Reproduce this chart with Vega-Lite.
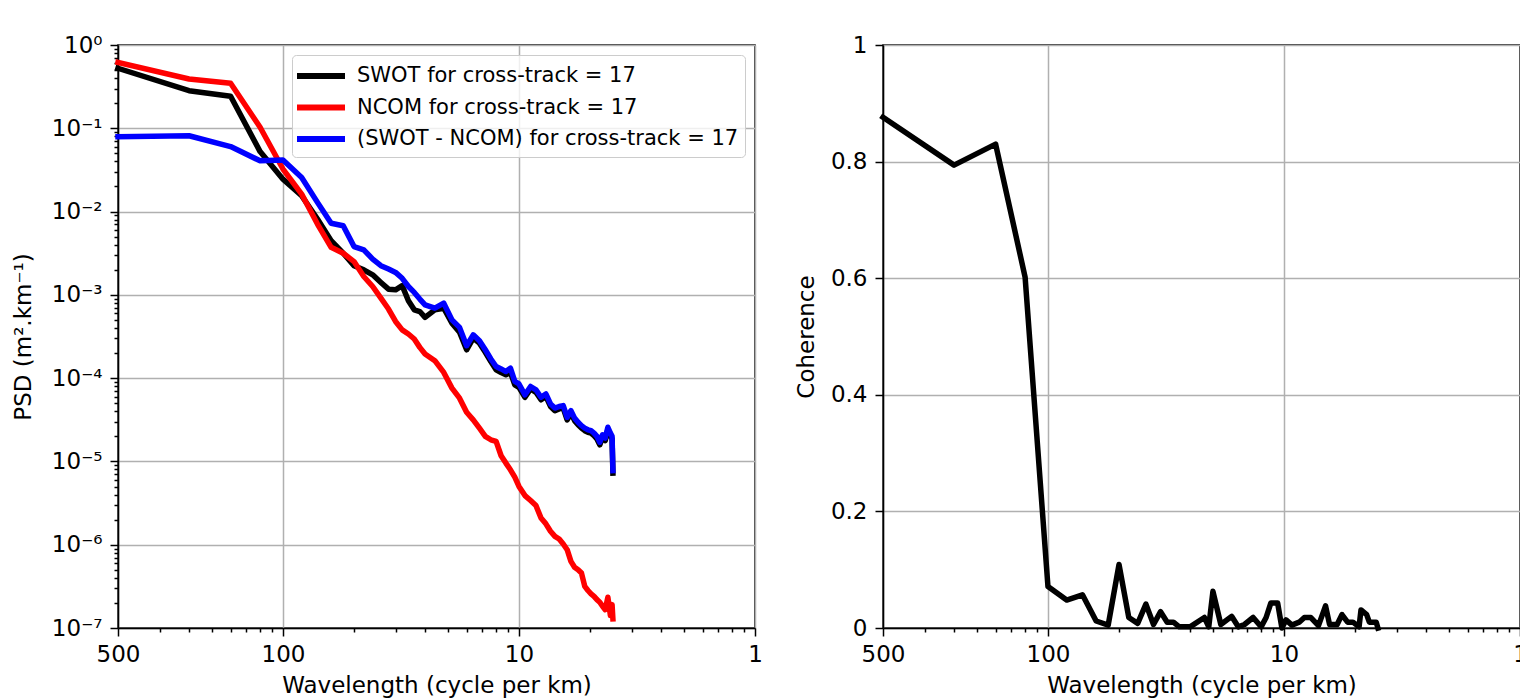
{
"$schema": "https://vega.github.io/schema/vega-lite/v6.json",
"background": "white",
"padding": {"left": 11, "top": 33, "right": 0, "bottom": 0},
"spacing": 128,
"bounds": "flush",
"resolve": {"scale": {"color": "independent"}, "legend": {"color": "independent"}},
"config": {
  "font": "DejaVu Sans",
  "view": {"stroke": "black", "strokeWidth": 1.5},
  "axis": {"labelFont": "DejaVu Sans", "labelFontSize": 23, "titleFont": "DejaVu Sans", "titleFontSize": 23, "titleFontWeight": "normal", "labelColor": "black", "titleColor": "black", "tickColor": "black", "tickWidth": 1.5, "domainColor": "black", "domainWidth": 1.5, "gridColor": "#b0b0b0", "gridWidth": 1.5, "labelPadding": 7, "tickSize": 8, "labelOverlap": false, "labelFlush": false, "titlePadding": 8},
  "legend": {"labelFont": "DejaVu Sans", "labelFontSize": 21, "labelColor": "black", "labelLimit": 0}
},
"datasets": {
"psd": [
{"s":"SWOT for cross-track = 17","f":0.002,"psd":5.25e-1},
{"s":"SWOT for cross-track = 17","f":0.004,"psd":2.83e-1},
{"s":"SWOT for cross-track = 17","f":0.006,"psd":2.42e-1},
{"s":"SWOT for cross-track = 17","f":0.008,"psd":5.25e-2},
{"s":"SWOT for cross-track = 17","f":0.010,"psd":2.45e-2},
{"s":"SWOT for cross-track = 17","f":0.012,"psd":1.55e-2},
{"s":"SWOT for cross-track = 17","f":0.014,"psd":8.13e-3},
{"s":"SWOT for cross-track = 17","f":0.016,"psd":4.47e-3},
{"s":"SWOT for cross-track = 17","f":0.018,"psd":3.16e-3},
{"s":"SWOT for cross-track = 17","f":0.020,"psd":2.24e-3},
{"s":"SWOT for cross-track = 17","f":0.022,"psd":2.00e-3},
{"s":"SWOT for cross-track = 17","f":0.024,"psd":1.74e-3},
{"s":"SWOT for cross-track = 17","f":0.026,"psd":1.41e-3},
{"s":"SWOT for cross-track = 17","f":0.028,"psd":1.17e-3},
{"s":"SWOT for cross-track = 17","f":0.030,"psd":1.15e-3},
{"s":"SWOT for cross-track = 17","f":0.032,"psd":1.29e-3},
{"s":"SWOT for cross-track = 17","f":0.034,"psd":8.51e-4},
{"s":"SWOT for cross-track = 17","f":0.036,"psd":6.61e-4},
{"s":"SWOT for cross-track = 17","f":0.038,"psd":6.31e-4},
{"s":"SWOT for cross-track = 17","f":0.040,"psd":5.37e-4},
{"s":"SWOT for cross-track = 17","f":0.044,"psd":6.61e-4},
{"s":"SWOT for cross-track = 17","f":0.048,"psd":6.92e-4},
{"s":"SWOT for cross-track = 17","f":0.052,"psd":4.57e-4},
{"s":"SWOT for cross-track = 17","f":0.056,"psd":3.55e-4},
{"s":"SWOT for cross-track = 17","f":0.060,"psd":2.19e-4},
{"s":"SWOT for cross-track = 17","f":0.064,"psd":3.02e-4},
{"s":"SWOT for cross-track = 17","f":0.068,"psd":2.63e-4},
{"s":"SWOT for cross-track = 17","f":0.072,"psd":2.04e-4},
{"s":"SWOT for cross-track = 17","f":0.076,"psd":1.58e-4},
{"s":"SWOT for cross-track = 17","f":0.080,"psd":1.26e-4},
{"s":"SWOT for cross-track = 17","f":0.084,"psd":1.17e-4},
{"s":"SWOT for cross-track = 17","f":0.088,"psd":1.10e-4},
{"s":"SWOT for cross-track = 17","f":0.092,"psd":1.17e-4},
{"s":"SWOT for cross-track = 17","f":0.096,"psd":8.32e-5},
{"s":"SWOT for cross-track = 17","f":0.100,"psd":7.76e-5},
{"s":"SWOT for cross-track = 17","f":0.106,"psd":5.89e-5},
{"s":"SWOT for cross-track = 17","f":0.112,"psd":7.41e-5},
{"s":"SWOT for cross-track = 17","f":0.118,"psd":6.76e-5},
{"s":"SWOT for cross-track = 17","f":0.124,"psd":5.50e-5},
{"s":"SWOT for cross-track = 17","f":0.130,"psd":6.03e-5},
{"s":"SWOT for cross-track = 17","f":0.136,"psd":4.57e-5},
{"s":"SWOT for cross-track = 17","f":0.142,"psd":4.07e-5},
{"s":"SWOT for cross-track = 17","f":0.148,"psd":4.27e-5},
{"s":"SWOT for cross-track = 17","f":0.154,"psd":4.37e-5},
{"s":"SWOT for cross-track = 17","f":0.160,"psd":3.16e-5},
{"s":"SWOT for cross-track = 17","f":0.166,"psd":3.80e-5},
{"s":"SWOT for cross-track = 17","f":0.172,"psd":3.09e-5},
{"s":"SWOT for cross-track = 17","f":0.178,"psd":2.75e-5},
{"s":"SWOT for cross-track = 17","f":0.184,"psd":2.51e-5},
{"s":"SWOT for cross-track = 17","f":0.190,"psd":2.34e-5},
{"s":"SWOT for cross-track = 17","f":0.196,"psd":2.24e-5},
{"s":"SWOT for cross-track = 17","f":0.202,"psd":2.19e-5},
{"s":"SWOT for cross-track = 17","f":0.208,"psd":2.04e-5},
{"s":"SWOT for cross-track = 17","f":0.214,"psd":1.86e-5},
{"s":"SWOT for cross-track = 17","f":0.220,"psd":1.58e-5},
{"s":"SWOT for cross-track = 17","f":0.226,"psd":1.95e-5},
{"s":"SWOT for cross-track = 17","f":0.232,"psd":1.78e-5},
{"s":"SWOT for cross-track = 17","f":0.238,"psd":2.40e-5},
{"s":"SWOT for cross-track = 17","f":0.244,"psd":2.04e-5},
{"s":"SWOT for cross-track = 17","f":0.248,"psd":1.86e-5},
{"s":"SWOT for cross-track = 17","f":0.250,"psd":7.24e-6},
{"s":"NCOM for cross-track = 17","f":0.002,"psd":6.19e-1},
{"s":"NCOM for cross-track = 17","f":0.004,"psd":3.91e-1},
{"s":"NCOM for cross-track = 17","f":0.006,"psd":3.47e-1},
{"s":"NCOM for cross-track = 17","f":0.008,"psd":1.03e-1},
{"s":"NCOM for cross-track = 17","f":0.010,"psd":3.24e-2},
{"s":"NCOM for cross-track = 17","f":0.012,"psd":1.62e-2},
{"s":"NCOM for cross-track = 17","f":0.014,"psd":7.08e-3},
{"s":"NCOM for cross-track = 17","f":0.016,"psd":3.72e-3},
{"s":"NCOM for cross-track = 17","f":0.018,"psd":3.16e-3},
{"s":"NCOM for cross-track = 17","f":0.020,"psd":2.51e-3},
{"s":"NCOM for cross-track = 17","f":0.022,"psd":1.66e-3},
{"s":"NCOM for cross-track = 17","f":0.024,"psd":1.26e-3},
{"s":"NCOM for cross-track = 17","f":0.026,"psd":9.12e-4},
{"s":"NCOM for cross-track = 17","f":0.028,"psd":6.76e-4},
{"s":"NCOM for cross-track = 17","f":0.030,"psd":4.79e-4},
{"s":"NCOM for cross-track = 17","f":0.032,"psd":3.80e-4},
{"s":"NCOM for cross-track = 17","f":0.034,"psd":3.39e-4},
{"s":"NCOM for cross-track = 17","f":0.036,"psd":2.95e-4},
{"s":"NCOM for cross-track = 17","f":0.038,"psd":2.34e-4},
{"s":"NCOM for cross-track = 17","f":0.040,"psd":1.95e-4},
{"s":"NCOM for cross-track = 17","f":0.044,"psd":1.62e-4},
{"s":"NCOM for cross-track = 17","f":0.048,"psd":1.17e-4},
{"s":"NCOM for cross-track = 17","f":0.052,"psd":7.59e-5},
{"s":"NCOM for cross-track = 17","f":0.056,"psd":5.75e-5},
{"s":"NCOM for cross-track = 17","f":0.060,"psd":3.89e-5},
{"s":"NCOM for cross-track = 17","f":0.064,"psd":3.16e-5},
{"s":"NCOM for cross-track = 17","f":0.068,"psd":2.51e-5},
{"s":"NCOM for cross-track = 17","f":0.072,"psd":2.00e-5},
{"s":"NCOM for cross-track = 17","f":0.076,"psd":1.82e-5},
{"s":"NCOM for cross-track = 17","f":0.080,"psd":1.74e-5},
{"s":"NCOM for cross-track = 17","f":0.084,"psd":1.17e-5},
{"s":"NCOM for cross-track = 17","f":0.088,"psd":9.55e-6},
{"s":"NCOM for cross-track = 17","f":0.092,"psd":7.94e-6},
{"s":"NCOM for cross-track = 17","f":0.096,"psd":6.46e-6},
{"s":"NCOM for cross-track = 17","f":0.100,"psd":5.01e-6},
{"s":"NCOM for cross-track = 17","f":0.106,"psd":3.89e-6},
{"s":"NCOM for cross-track = 17","f":0.112,"psd":3.39e-6},
{"s":"NCOM for cross-track = 17","f":0.118,"psd":2.95e-6},
{"s":"NCOM for cross-track = 17","f":0.124,"psd":2.09e-6},
{"s":"NCOM for cross-track = 17","f":0.130,"psd":1.78e-6},
{"s":"NCOM for cross-track = 17","f":0.136,"psd":1.45e-6},
{"s":"NCOM for cross-track = 17","f":0.142,"psd":1.26e-6},
{"s":"NCOM for cross-track = 17","f":0.148,"psd":1.17e-6},
{"s":"NCOM for cross-track = 17","f":0.154,"psd":1.02e-6},
{"s":"NCOM for cross-track = 17","f":0.160,"psd":8.71e-7},
{"s":"NCOM for cross-track = 17","f":0.166,"psd":6.31e-7},
{"s":"NCOM for cross-track = 17","f":0.172,"psd":5.37e-7},
{"s":"NCOM for cross-track = 17","f":0.178,"psd":5.01e-7},
{"s":"NCOM for cross-track = 17","f":0.184,"psd":4.57e-7},
{"s":"NCOM for cross-track = 17","f":0.190,"psd":3.16e-7},
{"s":"NCOM for cross-track = 17","f":0.196,"psd":2.82e-7},
{"s":"NCOM for cross-track = 17","f":0.202,"psd":2.57e-7},
{"s":"NCOM for cross-track = 17","f":0.208,"psd":2.40e-7},
{"s":"NCOM for cross-track = 17","f":0.214,"psd":2.19e-7},
{"s":"NCOM for cross-track = 17","f":0.220,"psd":2.04e-7},
{"s":"NCOM for cross-track = 17","f":0.226,"psd":1.82e-7},
{"s":"NCOM for cross-track = 17","f":0.232,"psd":1.66e-7},
{"s":"NCOM for cross-track = 17","f":0.238,"psd":2.34e-7},
{"s":"NCOM for cross-track = 17","f":0.244,"psd":1.41e-7},
{"s":"NCOM for cross-track = 17","f":0.248,"psd":1.91e-7},
{"s":"NCOM for cross-track = 17","f":0.250,"psd":1.29e-7},
{"s":"(SWOT - NCOM) for cross-track = 17","f":0.002,"psd":7.94e-2},
{"s":"(SWOT - NCOM) for cross-track = 17","f":0.004,"psd":8.13e-2},
{"s":"(SWOT - NCOM) for cross-track = 17","f":0.006,"psd":6.03e-2},
{"s":"(SWOT - NCOM) for cross-track = 17","f":0.008,"psd":4.07e-2},
{"s":"(SWOT - NCOM) for cross-track = 17","f":0.010,"psd":4.17e-2},
{"s":"(SWOT - NCOM) for cross-track = 17","f":0.012,"psd":2.57e-2},
{"s":"(SWOT - NCOM) for cross-track = 17","f":0.014,"psd":1.29e-2},
{"s":"(SWOT - NCOM) for cross-track = 17","f":0.016,"psd":7.24e-3},
{"s":"(SWOT - NCOM) for cross-track = 17","f":0.018,"psd":6.76e-3},
{"s":"(SWOT - NCOM) for cross-track = 17","f":0.020,"psd":3.80e-3},
{"s":"(SWOT - NCOM) for cross-track = 17","f":0.022,"psd":3.47e-3},
{"s":"(SWOT - NCOM) for cross-track = 17","f":0.024,"psd":2.69e-3},
{"s":"(SWOT - NCOM) for cross-track = 17","f":0.026,"psd":2.24e-3},
{"s":"(SWOT - NCOM) for cross-track = 17","f":0.028,"psd":2.04e-3},
{"s":"(SWOT - NCOM) for cross-track = 17","f":0.030,"psd":1.86e-3},
{"s":"(SWOT - NCOM) for cross-track = 17","f":0.032,"psd":1.58e-3},
{"s":"(SWOT - NCOM) for cross-track = 17","f":0.034,"psd":1.26e-3},
{"s":"(SWOT - NCOM) for cross-track = 17","f":0.036,"psd":1.07e-3},
{"s":"(SWOT - NCOM) for cross-track = 17","f":0.038,"psd":8.91e-4},
{"s":"(SWOT - NCOM) for cross-track = 17","f":0.040,"psd":7.59e-4},
{"s":"(SWOT - NCOM) for cross-track = 17","f":0.044,"psd":6.92e-4},
{"s":"(SWOT - NCOM) for cross-track = 17","f":0.048,"psd":7.94e-4},
{"s":"(SWOT - NCOM) for cross-track = 17","f":0.052,"psd":5.01e-4},
{"s":"(SWOT - NCOM) for cross-track = 17","f":0.056,"psd":4.07e-4},
{"s":"(SWOT - NCOM) for cross-track = 17","f":0.060,"psd":2.45e-4},
{"s":"(SWOT - NCOM) for cross-track = 17","f":0.064,"psd":3.31e-4},
{"s":"(SWOT - NCOM) for cross-track = 17","f":0.068,"psd":2.82e-4},
{"s":"(SWOT - NCOM) for cross-track = 17","f":0.072,"psd":2.19e-4},
{"s":"(SWOT - NCOM) for cross-track = 17","f":0.076,"psd":1.70e-4},
{"s":"(SWOT - NCOM) for cross-track = 17","f":0.080,"psd":1.38e-4},
{"s":"(SWOT - NCOM) for cross-track = 17","f":0.084,"psd":1.29e-4},
{"s":"(SWOT - NCOM) for cross-track = 17","f":0.088,"psd":1.20e-4},
{"s":"(SWOT - NCOM) for cross-track = 17","f":0.092,"psd":1.32e-4},
{"s":"(SWOT - NCOM) for cross-track = 17","f":0.096,"psd":9.12e-5},
{"s":"(SWOT - NCOM) for cross-track = 17","f":0.100,"psd":8.51e-5},
{"s":"(SWOT - NCOM) for cross-track = 17","f":0.106,"psd":6.31e-5},
{"s":"(SWOT - NCOM) for cross-track = 17","f":0.112,"psd":7.94e-5},
{"s":"(SWOT - NCOM) for cross-track = 17","f":0.118,"psd":7.24e-5},
{"s":"(SWOT - NCOM) for cross-track = 17","f":0.124,"psd":5.89e-5},
{"s":"(SWOT - NCOM) for cross-track = 17","f":0.130,"psd":6.46e-5},
{"s":"(SWOT - NCOM) for cross-track = 17","f":0.136,"psd":4.90e-5},
{"s":"(SWOT - NCOM) for cross-track = 17","f":0.142,"psd":4.37e-5},
{"s":"(SWOT - NCOM) for cross-track = 17","f":0.148,"psd":4.57e-5},
{"s":"(SWOT - NCOM) for cross-track = 17","f":0.154,"psd":4.68e-5},
{"s":"(SWOT - NCOM) for cross-track = 17","f":0.160,"psd":3.39e-5},
{"s":"(SWOT - NCOM) for cross-track = 17","f":0.166,"psd":4.07e-5},
{"s":"(SWOT - NCOM) for cross-track = 17","f":0.172,"psd":3.31e-5},
{"s":"(SWOT - NCOM) for cross-track = 17","f":0.178,"psd":2.95e-5},
{"s":"(SWOT - NCOM) for cross-track = 17","f":0.184,"psd":2.69e-5},
{"s":"(SWOT - NCOM) for cross-track = 17","f":0.190,"psd":2.51e-5},
{"s":"(SWOT - NCOM) for cross-track = 17","f":0.196,"psd":2.40e-5},
{"s":"(SWOT - NCOM) for cross-track = 17","f":0.202,"psd":2.34e-5},
{"s":"(SWOT - NCOM) for cross-track = 17","f":0.208,"psd":2.19e-5},
{"s":"(SWOT - NCOM) for cross-track = 17","f":0.214,"psd":2.00e-5},
{"s":"(SWOT - NCOM) for cross-track = 17","f":0.220,"psd":1.70e-5},
{"s":"(SWOT - NCOM) for cross-track = 17","f":0.226,"psd":2.09e-5},
{"s":"(SWOT - NCOM) for cross-track = 17","f":0.232,"psd":1.91e-5},
{"s":"(SWOT - NCOM) for cross-track = 17","f":0.238,"psd":2.57e-5},
{"s":"(SWOT - NCOM) for cross-track = 17","f":0.244,"psd":2.19e-5},
{"s":"(SWOT - NCOM) for cross-track = 17","f":0.248,"psd":2.00e-5},
{"s":"(SWOT - NCOM) for cross-track = 17","f":0.250,"psd":7.76e-6}
],
"coh": [
{"f":0.002,"coherence":0.876},{"f":0.004,"coherence":0.794},{"f":0.006,"coherence":0.830},{"f":0.008,"coherence":0.602},
{"f":0.010,"coherence":0.071},{"f":0.012,"coherence":0.048},{"f":0.014,"coherence":0.057},{"f":0.016,"coherence":0.012},
{"f":0.018,"coherence":0.005},{"f":0.020,"coherence":0.109},{"f":0.022,"coherence":0.018},{"f":0.024,"coherence":0.008},
{"f":0.026,"coherence":0.041},{"f":0.028,"coherence":0.006},{"f":0.030,"coherence":0.028},{"f":0.032,"coherence":0.010},
{"f":0.034,"coherence":0.010},{"f":0.036,"coherence":0.002},{"f":0.040,"coherence":0.002},{"f":0.046,"coherence":0.018},
{"f":0.048,"coherence":0.002},{"f":0.050,"coherence":0.063},{"f":0.054,"coherence":0.006},{"f":0.060,"coherence":0.020},
{"f":0.064,"coherence":0.002},{"f":0.068,"coherence":0.006},{"f":0.074,"coherence":0.018},{"f":0.080,"coherence":0.002},
{"f":0.084,"coherence":0.018},{"f":0.088,"coherence":0.043},{"f":0.094,"coherence":0.043},{"f":0.098,"coherence":0.000},
{"f":0.102,"coherence":0.014},{"f":0.108,"coherence":0.005},{"f":0.116,"coherence":0.010},{"f":0.122,"coherence":0.018},
{"f":0.130,"coherence":0.018},{"f":0.140,"coherence":0.004},{"f":0.150,"coherence":0.038},{"f":0.156,"coherence":0.006},
{"f":0.168,"coherence":0.006},{"f":0.176,"coherence":0.023},{"f":0.186,"coherence":0.010},{"f":0.196,"coherence":0.010},
{"f":0.208,"coherence":0.002},{"f":0.212,"coherence":0.031},{"f":0.224,"coherence":0.023},{"f":0.230,"coherence":0.010},
{"f":0.246,"coherence":0.010},{"f":0.250,"coherence":0.000}
]
},
"hconcat": [
{
  "width": 637,
  "height": 583,
  "data": {"name": "psd"},
  "encoding": {
    "x": {"field": "f", "type": "quantitative",
      "scale": {"type": "log", "domain": [0.002, 1]},
      "axis": {"title": "Wavelength (cycle per km)",
        "values": [0.002,0.003,0.004,0.005,0.006,0.007,0.008,0.009,0.01,0.02,0.03,0.04,0.05,0.06,0.07,0.08,0.09,0.1,0.2,0.3,0.4,0.5,0.6,0.7,0.8,0.9,1],
        "labelExpr": "indexof([0.002,0.01,0.1,1], datum.value) >= 0 ? toString(round(1/datum.value)) : ''",
        "tickSize": {"condition": {"test": "indexof([0.002,0.01,0.1,1], datum.value) >= 0", "value": 8}, "value": 4},
        "gridOpacity": {"condition": {"test": "indexof([0.002,0.01,0.1,1], datum.value) >= 0", "value": 1}, "value": 0}}},
    "y": {"field": "psd", "type": "quantitative",
      "scale": {"type": "log", "domain": [1e-7, 1]},
      "axis": {"title": "PSD (m².km⁻¹)", "titlePadding": 16, "labelPadding": 8,
        "values": [1e-7,2e-7,3e-7,4e-7,5e-7,6e-7,7e-7,8e-7,9e-7,1e-6,2e-6,3e-6,4e-6,5e-6,6e-6,7e-6,8e-6,9e-6,1e-5,2e-5,3e-5,4e-5,5e-5,6e-5,7e-5,8e-5,9e-5,1e-4,2e-4,3e-4,4e-4,5e-4,6e-4,7e-4,8e-4,9e-4,1e-3,2e-3,3e-3,4e-3,5e-3,6e-3,7e-3,8e-3,9e-3,1e-2,2e-2,3e-2,4e-2,5e-2,6e-2,7e-2,8e-2,9e-2,1e-1,2e-1,3e-1,4e-1,5e-1,6e-1,7e-1,8e-1,9e-1,1],
        "labelExpr": "abs(log(datum.value)/LN10 - round(log(datum.value)/LN10)) < 0.001 ? ['10⁰','10⁻¹','10⁻²','10⁻³','10⁻⁴','10⁻⁵','10⁻⁶','10⁻⁷'][round(-log(datum.value)/LN10)] : ''",
        "tickSize": {"condition": {"test": "abs(log(datum.value)/LN10 - round(log(datum.value)/LN10)) < 0.001", "value": 8}, "value": 4},
        "gridOpacity": {"condition": {"test": "abs(log(datum.value)/LN10 - round(log(datum.value)/LN10)) < 0.001", "value": 1}, "value": 0}}},
    "color": {"field": "s", "type": "nominal",
      "scale": {"domain": ["SWOT for cross-track = 17", "NCOM for cross-track = 17", "(SWOT - NCOM) for cross-track = 17"], "range": ["#000000", "#ff0000", "#0000ff"]},
      "legend": {"title": null, "orient": "top-right", "offset": 10, "symbolType": "M-2,0H2", "symbolSize": 576, "symbolStrokeWidth": 6, "symbolOffset": 8, "strokeColor": "#cccccc", "fillColor": "rgba(255,255,255,0.8)", "padding": 6, "cornerRadius": 4, "rowPadding": 4.5, "labelOffset": 21, "labelFontSize": 21}}
  },
  "layer": [
    {"transform": [{"filter": "datum.s === 'SWOT for cross-track = 17'"}], "mark": {"type": "line", "strokeWidth": 5.5, "strokeJoin": "round", "strokeCap": "square"}},
    {"transform": [{"filter": "datum.s === 'NCOM for cross-track = 17'"}], "mark": {"type": "line", "strokeWidth": 5.5, "strokeJoin": "round", "strokeCap": "square"}},
    {"transform": [{"filter": "datum.s === '(SWOT - NCOM) for cross-track = 17'"}], "mark": {"type": "line", "strokeWidth": 5.5, "strokeJoin": "round", "strokeCap": "square"}}
  ]
},
{
  "width": 637,
  "height": 583,
  "data": {"name": "coh"},
  "mark": {"type": "line", "color": "#000000", "strokeWidth": 5.5, "strokeJoin": "round", "strokeCap": "square"},
  "encoding": {
    "x": {"field": "f", "type": "quantitative",
      "scale": {"type": "log", "domain": [0.002, 1]},
      "axis": {"title": "Wavelength (cycle per km)",
        "values": [0.002,0.003,0.004,0.005,0.006,0.007,0.008,0.009,0.01,0.02,0.03,0.04,0.05,0.06,0.07,0.08,0.09,0.1,0.2,0.3,0.4,0.5,0.6,0.7,0.8,0.9,1],
        "labelExpr": "indexof([0.002,0.01,0.1,1], datum.value) >= 0 ? toString(round(1/datum.value)) : ''",
        "tickSize": {"condition": {"test": "indexof([0.002,0.01,0.1,1], datum.value) >= 0", "value": 8}, "value": 4},
        "gridOpacity": {"condition": {"test": "indexof([0.002,0.01,0.1,1], datum.value) >= 0", "value": 1}, "value": 0}}},
    "y": {"field": "coherence", "type": "quantitative",
      "scale": {"domain": [0, 1]},
      "axis": {"title": "Coherence", "titlePadding": 12, "labelPadding": 8,
        "values": [0, 0.2, 0.4, 0.6, 0.8, 1],
        "labelExpr": "datum.value == 0 ? '0' : datum.value == 1 ? '1' : format(datum.value, '.1f')"}}
  }
}
]
}
